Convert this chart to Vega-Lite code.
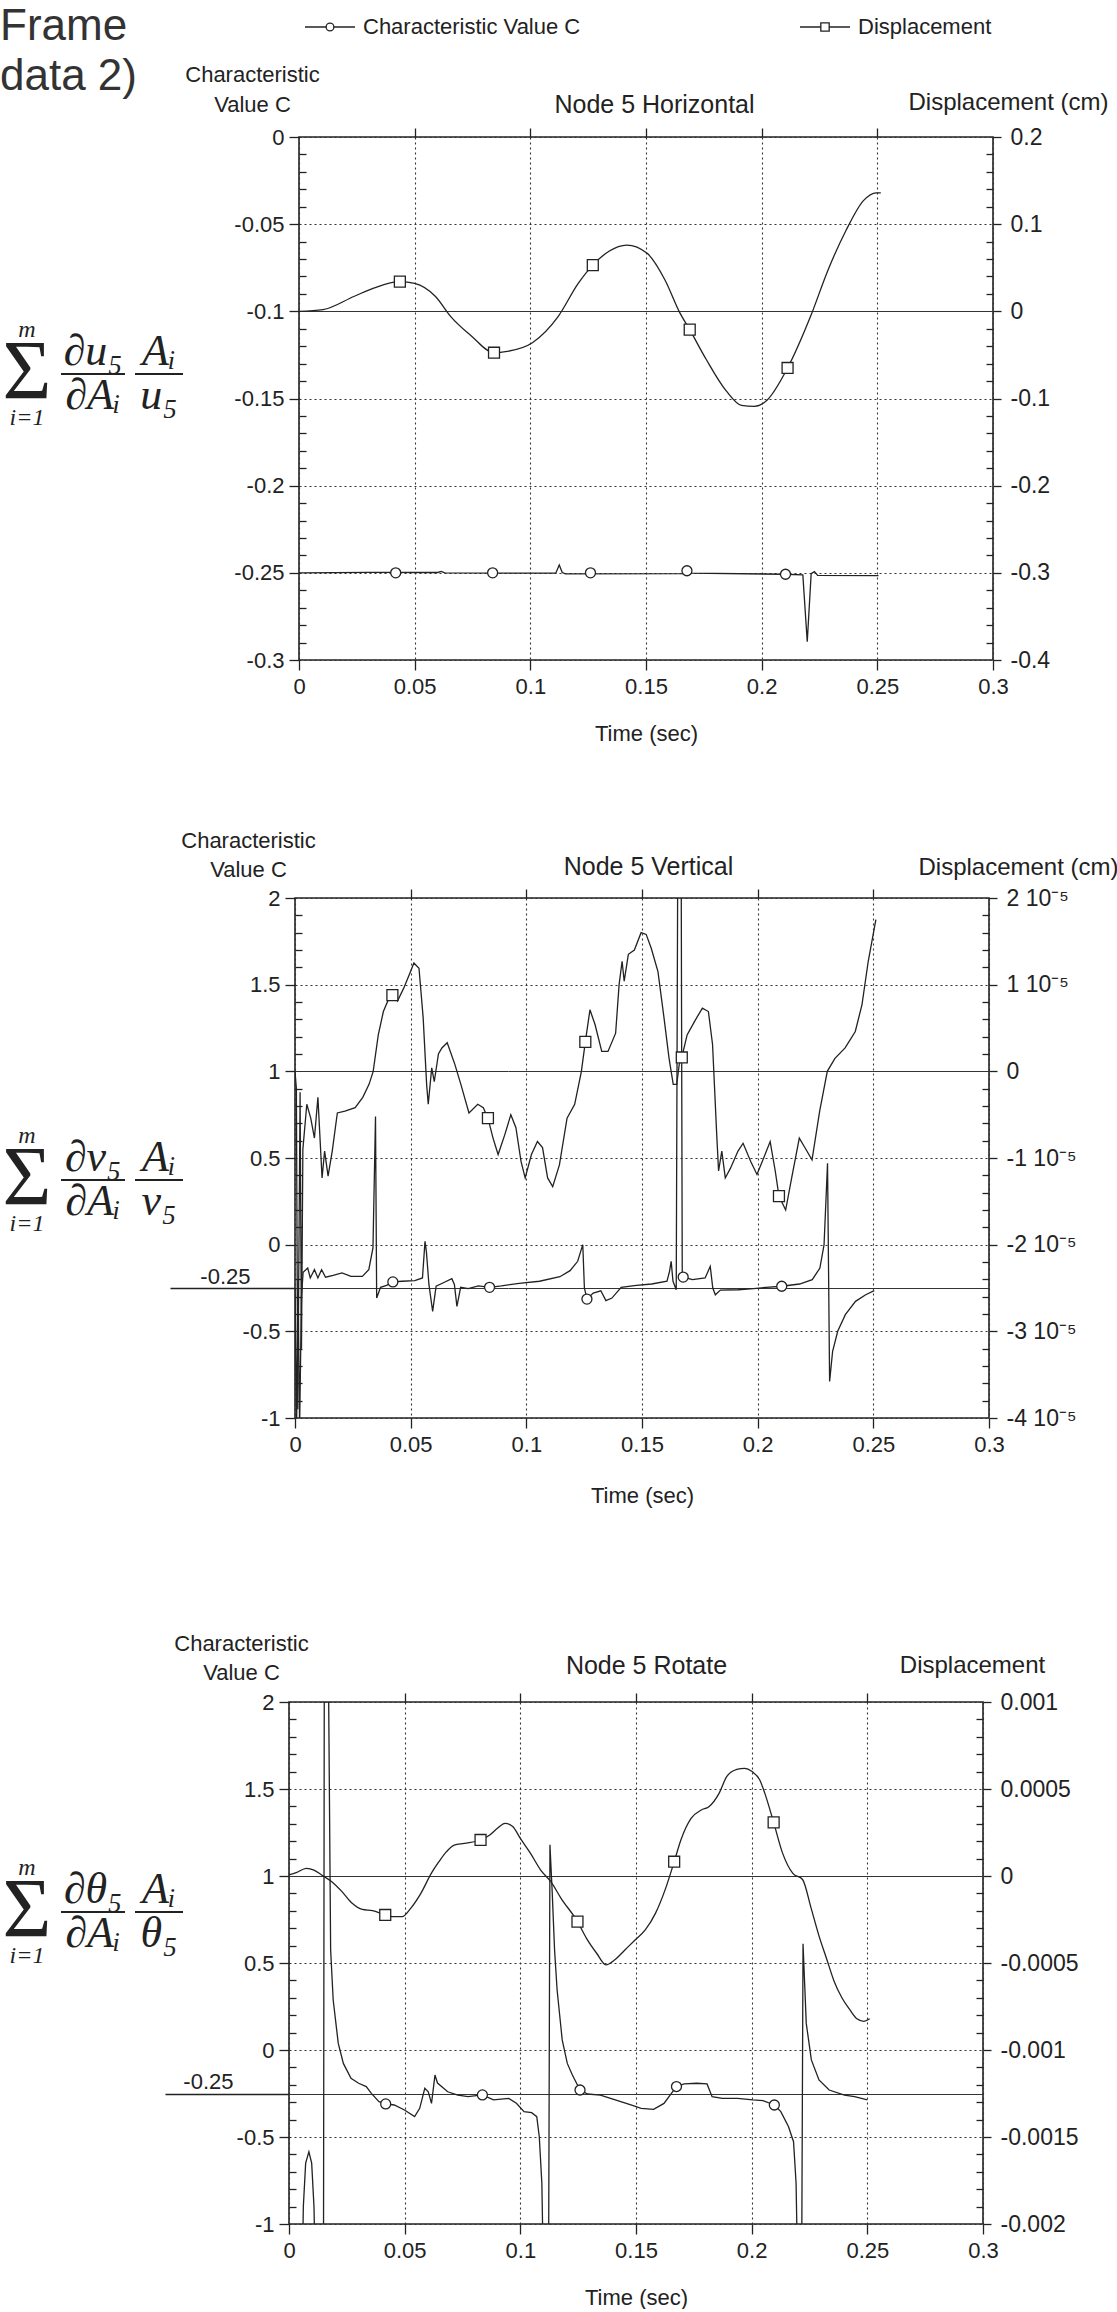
{
  "$schema": "https://vega.github.io/schema/vega-lite/v6.json",
  "padding": {"top": 5, "left": 0, "right": 0, "bottom": 0},
  "background": "white",
  "config": {
    "view": {"stroke": null},
    "font": "Liberation Sans",
    "axis": {"labelFont": "Liberation Sans", "labelFontSize": 22, "labelColor": "#222", "tickColor": "#222", "tickWidth": 1.3, "gridColor": "#333", "gridWidth": 1.1, "domain": false, "titleFont": "Liberation Sans", "titleFontWeight": "normal", "titleColor": "#222", "titleFontSize": 22, "labelOverlap": false, "labelFlush": false},
    "title": {"font": "Liberation Sans", "fontWeight": "normal", "color": "#222"},
    "line": {"color": "#222", "strokeWidth": 1.3},
    "point": {"filled": true, "fill": "white", "stroke": "#222", "strokeWidth": 1.3, "size": 100, "opacity": 1}
  },
  "datasets": {
    "hdr": [
      {"item": "frame", "txt": "Frame"},
      {"item": "Characteristic Value C", "txt": "Characteristic Value C"},
      {"item": "Displacement", "txt": "Displacement"}
    ],
    "f1": [
      {"part": "sigma", "col": "sum", "row": "bar", "txt": "Σ"},
      {"part": "limit", "col": "sum", "row": "sup", "txt": "m"},
      {"part": "limit", "col": "sum", "row": "sub", "txt": "i=1"},
      {"part": "term", "col": "f1", "row": "num", "txt": "∂u₅"},
      {"part": "term", "col": "f1", "row": "den", "txt": "∂Aᵢ"},
      {"part": "term", "col": "f2", "row": "num", "txt": "Aᵢ"},
      {"part": "term", "col": "f2", "row": "den", "txt": "u₅"},
      {"part": "bar1", "col": "f1", "row": "bar", "txt": ""},
      {"part": "bar2", "col": "f2", "row": "bar", "txt": ""}
    ],
    "f2": [
      {"part": "sigma", "col": "sum", "row": "bar", "txt": "Σ"},
      {"part": "limit", "col": "sum", "row": "sup", "txt": "m"},
      {"part": "limit", "col": "sum", "row": "sub", "txt": "i=1"},
      {"part": "term", "col": "f1", "row": "num", "txt": "∂v₅"},
      {"part": "term", "col": "f1", "row": "den", "txt": "∂Aᵢ"},
      {"part": "term", "col": "f2", "row": "num", "txt": "Aᵢ"},
      {"part": "term", "col": "f2", "row": "den", "txt": "v₅"},
      {"part": "bar1", "col": "f1", "row": "bar", "txt": ""},
      {"part": "bar2", "col": "f2", "row": "bar", "txt": ""}
    ],
    "f3": [
      {"part": "sigma", "col": "sum", "row": "bar", "txt": "Σ"},
      {"part": "limit", "col": "sum", "row": "sup", "txt": "m"},
      {"part": "limit", "col": "sum", "row": "sub", "txt": "i=1"},
      {"part": "term", "col": "f1", "row": "num", "txt": "∂θ₅"},
      {"part": "term", "col": "f1", "row": "den", "txt": "∂Aᵢ"},
      {"part": "term", "col": "f2", "row": "num", "txt": "Aᵢ"},
      {"part": "term", "col": "f2", "row": "den", "txt": "θ₅"},
      {"part": "bar1", "col": "f1", "row": "bar", "txt": ""},
      {"part": "bar2", "col": "f2", "row": "bar", "txt": ""}
    ],
    "c1": [{"t":0,"c":-0.25},{"t":0.03,"c":-0.2497},{"t":0.06,"c":-0.2498},{"t":0.0615,"c":-0.2492},{"t":0.063,"c":-0.25},{"t":0.111,"c":-0.2502},{"t":0.1125,"c":-0.2455},{"t":0.1138,"c":-0.2498},{"t":0.1152,"c":-0.2506},{"t":0.166,"c":-0.2505},{"t":0.1672,"c":-0.2485},{"t":0.169,"c":-0.2502},{"t":0.21,"c":-0.2508},{"t":0.2178,"c":-0.2512},{"t":0.2197,"c":-0.2895},{"t":0.2214,"c":-0.2505},{"t":0.2228,"c":-0.2493},{"t":0.2242,"c":-0.2515},{"t":0.2505,"c":-0.2516}],
    "c1m": [{"t":0.0418,"c":-0.25},{"t":0.0837,"c":-0.25},{"t":0.126,"c":-0.25},{"t":0.1677,"c":-0.2488},{"t":0.2103,"c":-0.2508}],
    "d1": [{"t":0,"d":0},{"t":0.0104,"d":0.002},{"t":0.0237,"d":0.017},{"t":0.0326,"d":0.027},{"t":0.0436,"d":0.034},{"t":0.05,"d":0.032},{"t":0.059,"d":0.017},{"t":0.0656,"d":-0.006},{"t":0.0744,"d":-0.028},{"t":0.0843,"d":-0.0475},{"t":0.09,"d":-0.046},{"t":0.1009,"d":-0.036},{"t":0.112,"d":-0.006},{"t":0.1207,"d":0.032},{"t":0.127,"d":0.053},{"t":0.134,"d":0.069},{"t":0.1417,"d":0.076},{"t":0.1505,"d":0.0665},{"t":0.1582,"d":0.036},{"t":0.1647,"d":-0.002},{"t":0.1689,"d":-0.021},{"t":0.176,"d":-0.055},{"t":0.1846,"d":-0.091},{"t":0.1913,"d":-0.108},{"t":0.1968,"d":-0.109},{"t":0.2023,"d":-0.102},{"t":0.2112,"d":-0.065},{"t":0.2211,"d":-0.006},{"t":0.2287,"d":0.0475},{"t":0.2365,"d":0.093},{"t":0.244,"d":0.127},{"t":0.2495,"d":0.136},{"t":0.2515,"d":0.136}],
    "d1m": [{"t":0.0436,"d":0.034},{"t":0.0843,"d":-0.0475},{"t":0.127,"d":0.053},{"t":0.1689,"d":-0.021},{"t":0.2112,"d":-0.065}],
    "c2": [{"t":0,"c":-0.25},{"t":0.0007,"c":-1.05},{"t":0.0013,"c":-0.2},{"t":0.002,"c":-1.05},{"t":0.0028,"c":-0.3},{"t":0.0035,"c":-0.16},{"t":0.0055,"c":-0.135},{"t":0.0066,"c":-0.192},{"t":0.0084,"c":-0.144},{"t":0.0099,"c":-0.192},{"t":0.0115,"c":-0.144},{"t":0.0132,"c":-0.188},{"t":0.0165,"c":-0.177},{"t":0.0203,"c":-0.163},{"t":0.0242,"c":-0.183},{"t":0.0291,"c":-0.183},{"t":0.0319,"c":-0.144},{"t":0.0337,"c":-0.019},{"t":0.0348,"c":0.74},{"t":0.0353,"c":-0.308},{"t":0.037,"c":-0.246},{"t":0.0396,"c":-0.235},{"t":0.0423,"c":-0.215},{"t":0.0463,"c":-0.211},{"t":0.0518,"c":-0.208},{"t":0.0551,"c":-0.192},{"t":0.0562,"c":0.019},{"t":0.0568,"c":-0.04},{"t":0.0579,"c":-0.231},{"t":0.0595,"c":-0.385},{"t":0.061,"c":-0.24},{"t":0.0639,"c":-0.221},{"t":0.0678,"c":-0.196},{"t":0.0689,"c":-0.23},{"t":0.07,"c":-0.356},{"t":0.0716,"c":-0.246},{"t":0.0749,"c":-0.254},{"t":0.0793,"c":-0.238},{"t":0.0841,"c":-0.246},{"t":0.0892,"c":-0.238},{"t":0.0969,"c":-0.223},{"t":0.1057,"c":-0.211},{"t":0.1145,"c":-0.185},{"t":0.1189,"c":-0.15},{"t":0.1222,"c":-0.096},{"t":0.1244,"c":0.0},{"t":0.1251,"c":-0.25},{"t":0.1262,"c":-0.314},{"t":0.1289,"c":-0.279},{"t":0.1322,"c":-0.266},{"t":0.1344,"c":-0.323},{"t":0.137,"c":-0.308},{"t":0.141,"c":-0.246},{"t":0.1476,"c":-0.235},{"t":0.1542,"c":-0.227},{"t":0.1608,"c":-0.211},{"t":0.1619,"c":-0.154},{"t":0.1626,"c":-0.096},{"t":0.1634,"c":-0.211},{"t":0.1648,"c":-0.26},{"t":0.1655,"c":2.4},{"t":0.1669,"c":2.4},{"t":0.1674,"c":-0.192},{"t":0.1678,"c":-0.187},{"t":0.1718,"c":-0.202},{"t":0.1773,"c":-0.192},{"t":0.1795,"c":-0.125},{"t":0.1806,"c":-0.25},{"t":0.1817,"c":-0.289},{"t":0.1839,"c":-0.262},{"t":0.1916,"c":-0.26},{"t":0.1982,"c":-0.254},{"t":0.2037,"c":-0.246},{"t":0.2104,"c":-0.24},{"t":0.2181,"c":-0.227},{"t":0.2236,"c":-0.202},{"t":0.2269,"c":-0.135},{"t":0.2287,"c":0.0},{"t":0.2302,"c":0.47},{"t":0.2311,"c":-0.789},{"t":0.2324,"c":-0.615},{"t":0.2346,"c":-0.5},{"t":0.2379,"c":-0.404},{"t":0.2423,"c":-0.327},{"t":0.2467,"c":-0.289},{"t":0.2504,"c":-0.265}],
    "c2m": [{"t":0.0423,"c":-0.215},{"t":0.0841,"c":-0.246},{"t":0.1262,"c":-0.314},{"t":0.1678,"c":-0.187},{"t":0.2104,"c":-0.24}],
    "d2": [{"t":0,"d":0},{"t":0.0006,"d":-0.2e-5},{"t":0.0012,"d":-3.9e-5},{"t":0.0022,"d":-0.24e-5},{"t":0.0028,"d":-3.2e-5},{"t":0.0034,"d":-0.9e-5},{"t":0.0051,"d":-0.38e-5},{"t":0.0068,"d":-0.54e-5},{"t":0.0084,"d":-0.77e-5},{"t":0.0099,"d":-0.3e-5},{"t":0.0117,"d":-1.23e-5},{"t":0.0128,"d":-0.92e-5},{"t":0.0143,"d":-1.21e-5},{"t":0.0161,"d":-0.92e-5},{"t":0.0183,"d":-0.48e-5},{"t":0.0216,"d":-0.46e-5},{"t":0.026,"d":-0.42e-5},{"t":0.0293,"d":-0.3e-5},{"t":0.032,"d":-0.15e-5},{"t":0.0338,"d":0},{"t":0.036,"d":0.42e-5},{"t":0.0382,"d":0.69e-5},{"t":0.0404,"d":0.83e-5},{"t":0.0421,"d":0.88e-5},{"t":0.0443,"d":0.81e-5},{"t":0.047,"d":0.96e-5},{"t":0.0496,"d":1.13e-5},{"t":0.0514,"d":1.25e-5},{"t":0.0536,"d":1.19e-5},{"t":0.0554,"d":0.62e-5},{"t":0.0569,"d":-0.15e-5},{"t":0.0576,"d":-0.38e-5},{"t":0.0591,"d":0.04e-5},{"t":0.0602,"d":-0.12e-5},{"t":0.062,"d":0.2e-5},{"t":0.0635,"d":0.27e-5},{"t":0.0658,"d":0.33e-5},{"t":0.0691,"d":0.08e-5},{"t":0.0717,"d":-0.15e-5},{"t":0.0752,"d":-0.48e-5},{"t":0.079,"d":-0.38e-5},{"t":0.0814,"d":-0.42e-5},{"t":0.0834,"d":-0.54e-5},{"t":0.0856,"d":-0.77e-5},{"t":0.0878,"d":-0.96e-5},{"t":0.0907,"d":-0.73e-5},{"t":0.0933,"d":-0.5e-5},{"t":0.0955,"d":-0.65e-5},{"t":0.0977,"d":-1.04e-5},{"t":0.0995,"d":-1.23e-5},{"t":0.1022,"d":-0.96e-5},{"t":0.1048,"d":-0.81e-5},{"t":0.107,"d":-0.88e-5},{"t":0.1092,"d":-1.23e-5},{"t":0.1114,"d":-1.33e-5},{"t":0.1143,"d":-1.08e-5},{"t":0.1176,"d":-0.54e-5},{"t":0.1209,"d":-0.38e-5},{"t":0.1238,"d":0},{"t":0.1255,"d":0.34e-5},{"t":0.1275,"d":0.71e-5},{"t":0.1297,"d":0.54e-5},{"t":0.1326,"d":0.23e-5},{"t":0.1353,"d":0.23e-5},{"t":0.1386,"d":0.44e-5},{"t":0.1401,"d":1.0e-5},{"t":0.1414,"d":1.27e-5},{"t":0.1423,"d":1.04e-5},{"t":0.1441,"d":1.35e-5},{"t":0.1467,"d":1.4e-5},{"t":0.1496,"d":1.6e-5},{"t":0.1518,"d":1.58e-5},{"t":0.154,"d":1.42e-5},{"t":0.1569,"d":1.15e-5},{"t":0.1595,"d":0.62e-5},{"t":0.1617,"d":0.15e-5},{"t":0.1635,"d":-0.15e-5},{"t":0.165,"d":-0.15e-5},{"t":0.1661,"d":0.08e-5},{"t":0.1672,"d":0.16e-5},{"t":0.1695,"d":0.42e-5},{"t":0.1728,"d":0.58e-5},{"t":0.1761,"d":0.73e-5},{"t":0.1787,"d":0.69e-5},{"t":0.1805,"d":0.31e-5},{"t":0.1823,"d":-0.73e-5},{"t":0.1831,"d":-1.15e-5},{"t":0.1845,"d":-0.92e-5},{"t":0.186,"d":-1.23e-5},{"t":0.1882,"d":-1.12e-5},{"t":0.1915,"d":-0.92e-5},{"t":0.1937,"d":-0.83e-5},{"t":0.197,"d":-1.04e-5},{"t":0.1997,"d":-1.19e-5},{"t":0.2026,"d":-1.0e-5},{"t":0.2054,"d":-0.81e-5},{"t":0.2076,"d":-1.15e-5},{"t":0.2092,"d":-1.44e-5},{"t":0.2121,"d":-1.6e-5},{"t":0.2147,"d":-1.23e-5},{"t":0.218,"d":-0.77e-5},{"t":0.2202,"d":-0.87e-5},{"t":0.2235,"d":-1.02e-5},{"t":0.2268,"d":-0.46e-5},{"t":0.2301,"d":0},{"t":0.2334,"d":0.15e-5},{"t":0.2378,"d":0.27e-5},{"t":0.2422,"d":0.46e-5},{"t":0.2451,"d":0.77e-5},{"t":0.2478,"d":1.27e-5},{"t":0.2511,"d":1.75e-5}],
    "d2m": [{"t":0.0421,"d":0.88e-5},{"t":0.0834,"d":-0.54e-5},{"t":0.1255,"d":0.34e-5},{"t":0.1672,"d":0.16e-5},{"t":0.2092,"d":-1.44e-5}],
    "c3": [{"t":0,"c":-1.3},{"t":0.0057,"c":-1.3},{"t":0.0062,"c":-0.9},{"t":0.0072,"c":-0.65},{"t":0.0086,"c":-0.585},{"t":0.0098,"c":-0.65},{"t":0.0108,"c":-0.9},{"t":0.0114,"c":-1.3},{"t":0.0149,"c":-1.3},{"t":0.0153,"c":2.6},{"t":0.0168,"c":2.6},{"t":0.018,"c":0.575},{"t":0.0191,"c":0.287},{"t":0.0213,"c":0.038},{"t":0.0235,"c":-0.077},{"t":0.0268,"c":-0.163},{"t":0.0301,"c":-0.191},{"t":0.0334,"c":-0.21},{"t":0.0356,"c":-0.249},{"t":0.0389,"c":-0.297},{"t":0.0418,"c":-0.31},{"t":0.0455,"c":-0.316},{"t":0.0499,"c":-0.345},{"t":0.0543,"c":-0.383},{"t":0.0565,"c":-0.335},{"t":0.0587,"c":-0.22},{"t":0.0602,"c":-0.24},{"t":0.0616,"c":-0.307},{"t":0.0631,"c":-0.144},{"t":0.0642,"c":-0.19},{"t":0.0686,"c":-0.24},{"t":0.073,"c":-0.259},{"t":0.0774,"c":-0.268},{"t":0.0836,"c":-0.258},{"t":0.0884,"c":-0.287},{"t":0.095,"c":-0.278},{"t":0.0983,"c":-0.306},{"t":0.1016,"c":-0.354},{"t":0.1049,"c":-0.36},{"t":0.1071,"c":-0.383},{"t":0.1082,"c":-0.5},{"t":0.1093,"c":-0.766},{"t":0.11,"c":-1.3},{"t":0.1122,"c":-1.3},{"t":0.1128,"c":1.18},{"t":0.1138,"c":0.9},{"t":0.1148,"c":0.575},{"t":0.1159,"c":0.345},{"t":0.1181,"c":0.058},{"t":0.1203,"c":-0.077},{"t":0.1225,"c":-0.144},{"t":0.1258,"c":-0.23},{"t":0.1291,"c":-0.253},{"t":0.1346,"c":-0.259},{"t":0.139,"c":-0.278},{"t":0.1434,"c":-0.297},{"t":0.1478,"c":-0.316},{"t":0.1522,"c":-0.335},{"t":0.1576,"c":-0.341},{"t":0.1621,"c":-0.307},{"t":0.1653,"c":-0.249},{"t":0.1675,"c":-0.21},{"t":0.1708,"c":-0.195},{"t":0.1763,"c":-0.191},{"t":0.1807,"c":-0.195},{"t":0.1829,"c":-0.268},{"t":0.1873,"c":-0.278},{"t":0.1939,"c":-0.278},{"t":0.2005,"c":-0.287},{"t":0.2049,"c":-0.291},{"t":0.2098,"c":-0.316},{"t":0.2126,"c":-0.354},{"t":0.2159,"c":-0.44},{"t":0.2181,"c":-0.527},{"t":0.2192,"c":-0.766},{"t":0.2199,"c":-1.3},{"t":0.2216,"c":-1.3},{"t":0.2222,"c":0.61},{"t":0.223,"c":0.35},{"t":0.2236,"c":0.153},{"t":0.2258,"c":-0.057},{"t":0.2291,"c":-0.172},{"t":0.2335,"c":-0.23},{"t":0.2401,"c":-0.259},{"t":0.2445,"c":-0.268},{"t":0.25,"c":-0.287}],
    "c3m": [{"t":0.0418,"c":-0.31},{"t":0.0836,"c":-0.258},{"t":0.1258,"c":-0.23},{"t":0.1675,"c":-0.21},{"t":0.2098,"c":-0.316}],
    "d3": [{"t":0,"d":0.000006},{"t":0.0031,"d":0.000019},{"t":0.0075,"d":0.000044},{"t":0.0108,"d":0.000034},{"t":0.0141,"d":0.000006},{"t":0.0185,"d":-0.000033},{"t":0.0229,"d":-0.00009},{"t":0.0273,"d":-0.000157},{"t":0.0317,"d":-0.000192},{"t":0.0361,"d":-0.000199},{"t":0.0416,"d":-0.000224},{"t":0.0449,"d":-0.000234},{"t":0.0489,"d":-0.000234},{"t":0.0526,"d":-0.000186},{"t":0.057,"d":-0.0001},{"t":0.0615,"d":0.000015},{"t":0.0648,"d":0.000082},{"t":0.0681,"d":0.00014},{"t":0.0714,"d":0.000178},{"t":0.0758,"d":0.000188},{"t":0.0828,"d":0.000207},{"t":0.0868,"d":0.000236},{"t":0.0901,"d":0.000274},{"t":0.0934,"d":0.000303},{"t":0.0967,"d":0.000284},{"t":0.1,"d":0.000216},{"t":0.1044,"d":0.00013},{"t":0.1088,"d":0.000034},{"t":0.1132,"d":-0.000033},{"t":0.1176,"d":-0.000128},{"t":0.1247,"d":-0.000262},{"t":0.1286,"d":-0.000358},{"t":0.133,"d":-0.000444},{"t":0.137,"d":-0.000511},{"t":0.1407,"d":-0.000483},{"t":0.1452,"d":-0.000425},{"t":0.1496,"d":-0.000368},{"t":0.154,"d":-0.00031},{"t":0.1584,"d":-0.000215},{"t":0.1628,"d":-0.000071},{"t":0.1665,"d":0.000082},{"t":0.1694,"d":0.000207},{"t":0.1738,"d":0.000331},{"t":0.1782,"d":0.000379},{"t":0.1815,"d":0.000398},{"t":0.1859,"d":0.000475},{"t":0.1892,"d":0.000571},{"t":0.1936,"d":0.000613},{"t":0.1969,"d":0.000619},{"t":0.2002,"d":0.0006},{"t":0.2035,"d":0.000552},{"t":0.2057,"d":0.000475},{"t":0.2095,"d":0.000308},{"t":0.2134,"d":0.00013},{"t":0.2178,"d":0.000015},{"t":0.222,"d":-0.00002},{"t":0.2256,"d":-0.00018},{"t":0.229,"d":-0.00034},{"t":0.2325,"d":-0.00048},{"t":0.2355,"d":-0.0006},{"t":0.239,"d":-0.0007},{"t":0.2425,"d":-0.00077},{"t":0.2455,"d":-0.00082},{"t":0.2485,"d":-0.000835},{"t":0.251,"d":-0.00082}],
    "d3m": [{"t":0.0416,"d":-0.000224},{"t":0.0828,"d":0.000207},{"t":0.1247,"d":-0.000262},{"t":0.1665,"d":0.000082},{"t":0.2095,"d":0.000308}]
  },
  "spacing": 6,
  "vconcat": [
    {
      "width": 825, "height": 44,
      "view": {"stroke": null},
      "data": {"name": "hdr"},
      "encoding": {"x": {"field": "item", "type": "nominal", "scale": {"type": "point", "domain": ["frame", "g1", "g2", "g3", "Characteristic Value C", "g5", "g6", "g7", "g8", "g9", "Displacement"], "padding": 0}, "axis": null}},
      "layer": [
        {"transform": [{"filter": "datum.item === 'frame'"}], "mark": {"type": "text", "align": "left", "baseline": "middle", "fontSize": 44, "font": "Liberation Sans", "color": "#333"}, "encoding": {"text": {"field": "txt", "type": "nominal"}}},
        {"transform": [{"filter": "datum.item !== 'frame'"}], "mark": {"type": "tick", "orient": "horizontal", "size": 50, "thickness": 1.3, "color": "#222", "opacity": 1}},
        {"transform": [{"filter": "datum.item === 'Characteristic Value C'"}], "mark": {"type": "point", "shape": "circle", "size": 60}},
        {"transform": [{"filter": "datum.item === 'Displacement'"}], "mark": {"type": "point", "shape": "square", "size": 70}},
        {"transform": [{"filter": "datum.item !== 'frame'"}], "mark": {"type": "text", "align": "left", "baseline": "middle", "dx": 33, "fontSize": 22, "font": "Liberation Sans", "color": "#222"}, "encoding": {"text": {"field": "txt", "type": "nominal"}}}
      ]
    },
    {
      "spacing": 83,
      "vconcat": [
        {
          "spacing": 113,
          "bounds": "flush",
          "hconcat": [
            {
              "width": 186, "height": 523,
              "view": {"stroke": null},
              "title": {"text": "data 2)", "anchor": "start", "frame": "group", "fontSize": 44, "font": "Liberation Sans", "fontWeight": "normal", "color": "#333", "offset": 38},
              "data": {"name": "f1"},
              "encoding": {
                "x": {"field": "col", "type": "nominal", "scale": {"type": "point", "domain": ["sum", "f1", "f2"], "padding": 0.409, "align": 0.5}, "axis": null},
                "y": {"field": "row", "type": "nominal", "scale": {"type": "point", "domain": ["a1","a2","a3","a4","a5","a6","a7","a8","sup","num","bar","den","sub","b1","b2","b3","b4","b5","b6","b7","b8","b9","b10","b11"], "padding": 0.3864, "align": 1}, "axis": null}
              },
              "layer": [
                {"transform": [{"filter": "datum.part === 'sigma'"}], "mark": {"type": "text", "font": "Liberation Serif", "fontSize": 84, "baseline": "middle", "align": "center", "color": "#222"}, "encoding": {"text": {"field": "txt", "type": "nominal"}}},
                {"transform": [{"filter": "datum.part === 'limit'"}], "mark": {"type": "text", "font": "Liberation Serif", "fontStyle": "italic", "fontSize": 24, "baseline": "middle", "align": "center", "color": "#222"}, "encoding": {"text": {"field": "txt", "type": "nominal"}}},
                {"transform": [{"filter": "datum.part === 'term'"}], "mark": {"type": "text", "font": "Liberation Serif", "fontStyle": "italic", "fontSize": 44, "baseline": "middle", "align": "center", "color": "#222"}, "encoding": {"text": {"field": "txt", "type": "nominal"}}},
                {"transform": [{"filter": "datum.part === 'bar1'"}], "mark": {"type": "tick", "orient": "horizontal", "size": 64, "thickness": 2, "color": "#222", "opacity": 1}},
                {"transform": [{"filter": "datum.part === 'bar2'"}], "mark": {"type": "tick", "orient": "horizontal", "size": 48, "thickness": 2, "color": "#222", "opacity": 1}}
              ]
            },
            {
              "width": 694, "height": 523,
              "view": {"stroke": "#222", "strokeWidth": 1.6},
              "layer": [
                {
                  "encoding": {
                    "x": {"field": "t", "type": "quantitative", "scale": {"domain": [0, 0.3], "nice": false, "zero": false},
                      "axis": {"orient": "bottom", "values": [0, 0.05, 0.1, 0.15, 0.2, 0.25, 0.3], "format": "~g", "tickSize": 10, "labelPadding": 6, "grid": true, "gridDash": [2, 3], "title": "Time (sec)", "titleX": 347, "titleY": 73, "titleBaseline": "middle", "titleAlign": "center"}},
                    "y": {"field": "c", "type": "quantitative", "scale": {"domain": [-0.3, 0], "nice": false, "zero": false},
                      "axis": {"orient": "left", "values": [0,-0.01,-0.02,-0.03,-0.04,-0.05,-0.06,-0.07,-0.08,-0.09,-0.1,-0.11,-0.12,-0.13,-0.14,-0.15,-0.16,-0.17,-0.18,-0.19,-0.2,-0.21,-0.22,-0.23,-0.24,-0.25,-0.26,-0.27,-0.28,-0.29,-0.3],
                        "format": "~g",
                        "labelExpr": "abs(datum.value*20-round(datum.value*20))<1e-6 ? replace(datum.label,'−','-') : ''",
                        "tickSize": {"condition": {"test": "abs(datum.value*20-round(datum.value*20))<1e-6", "value": 10}, "value": -7},
                        "labelPadding": 5,
                        "grid": true,
                        "gridOpacity": {"condition": {"test": "abs(datum.value*20-round(datum.value*20))<1e-6", "value": 1}, "value": 0},
                        "gridDash": {"condition": {"test": "abs(datum.value+0.1)<1e-6", "value": [1, 0]}, "value": [2, 3]},
                        "title": ["Characteristic", "Value C"], "titleAngle": 0, "titleAlign": "center", "titleBaseline": "middle", "titleX": -47, "titleY": -63, "titleLineHeight": 30}}
                  },
                  "layer": [
                    {"data": {"name": "c1"}, "mark": {"type": "line", "clip": true}},
                    {"data": {"name": "c1m"}, "mark": {"type": "point", "shape": "circle"}}
                  ]
                },
                {
                  "encoding": {
                    "x": {"field": "t", "type": "quantitative", "scale": {"domain": [0, 0.3], "nice": false, "zero": false},
                      "axis": {"orient": "top", "values": [0.05, 0.1, 0.15, 0.2, 0.25], "labels": false, "tickSize": 9, "grid": false, "title": "Node 5 Horizontal", "titleFontSize": 25, "titleX": 355, "titleY": -33, "titleBaseline": "middle", "titleAlign": "center"}},
                    "y": {"field": "d", "type": "quantitative", "scale": {"domain": [-0.4, 0.2], "nice": false, "zero": false},
                      "axis": {"orient": "right", "values": [0.2,0.18,0.16,0.14,0.12,0.1,0.08,0.06,0.04,0.02,0,-0.02,-0.04,-0.06,-0.08,-0.1,-0.12,-0.14,-0.16,-0.18,-0.2,-0.22,-0.24,-0.26,-0.28,-0.3,-0.32,-0.34,-0.36,-0.38,-0.4],
                        "format": "~g",
                        "labelExpr": "abs(datum.value*10-round(datum.value*10))<1e-6 ? replace(datum.label,'−','-') : ''",
                        "tickSize": {"condition": {"test": "abs(datum.value*10-round(datum.value*10))<1e-6", "value": 8}, "value": -7},
                        "labelPadding": 9, "labelFontSize": 23, "grid": false,
                        "title": "Displacement (cm)", "titleFontSize": 24, "titleAngle": 0, "titleAlign": "center", "titleBaseline": "middle", "titleX": 15, "titleY": -35}}
                  },
                  "layer": [
                    {"data": {"name": "d1"}, "mark": {"type": "line", "interpolate": "monotone", "clip": true}},
                    {"data": {"name": "d1m"}, "mark": {"type": "point", "shape": "square", "size": 120}}
                  ]
                }
              ],
              "resolve": {"scale": {"y": "independent"}}
            }
          ]
        },
        {
          "spacing": 124,
          "vconcat": [
            {
              "spacing": 109,
              "bounds": "flush",
              "hconcat": [
                {
                  "width": 186, "height": 520,
                  "view": {"stroke": null},
                  "data": {"name": "f2"},
                  "encoding": {
                    "x": {"field": "col", "type": "nominal", "scale": {"type": "point", "domain": ["sum", "f1", "f2"], "padding": 0.409, "align": 0.5}, "axis": null},
                    "y": {"field": "row", "type": "nominal", "scale": {"type": "point", "domain": ["a1","a2","a3","a4","a5","a6","a7","a8","a9","a10","sup","num","bar","den","sub","b1","b2","b3","b4","b5","b6","b7","b8"], "padding": 0.818, "align": 0.5}, "axis": null}
                  },
                  "layer": [
                    {"transform": [{"filter": "datum.part === 'sigma'"}], "mark": {"type": "text", "font": "Liberation Serif", "fontSize": 84, "baseline": "middle", "align": "center", "color": "#222"}, "encoding": {"text": {"field": "txt", "type": "nominal"}}},
                    {"transform": [{"filter": "datum.part === 'limit'"}], "mark": {"type": "text", "font": "Liberation Serif", "fontStyle": "italic", "fontSize": 24, "baseline": "middle", "align": "center", "color": "#222"}, "encoding": {"text": {"field": "txt", "type": "nominal"}}},
                    {"transform": [{"filter": "datum.part === 'term'"}], "mark": {"type": "text", "font": "Liberation Serif", "fontStyle": "italic", "fontSize": 44, "baseline": "middle", "align": "center", "color": "#222"}, "encoding": {"text": {"field": "txt", "type": "nominal"}}},
                    {"transform": [{"filter": "datum.part === 'bar1'"}], "mark": {"type": "tick", "orient": "horizontal", "size": 64, "thickness": 2, "color": "#222", "opacity": 1}},
                    {"transform": [{"filter": "datum.part === 'bar2'"}], "mark": {"type": "tick", "orient": "horizontal", "size": 48, "thickness": 2, "color": "#222", "opacity": 1}}
                  ]
                },
                {
                  "width": 694, "height": 520,
                  "view": {"stroke": "#222", "strokeWidth": 1.6},
                  "layer": [
                    {
                      "encoding": {
                        "x": {"field": "t", "type": "quantitative", "scale": {"domain": [0, 0.3], "nice": false, "zero": false},
                          "axis": {"orient": "bottom", "values": [0, 0.05, 0.1, 0.15, 0.2, 0.25, 0.3], "format": "~g", "tickSize": 10, "labelPadding": 6, "grid": true, "gridDash": [2, 3], "title": "Time (sec)", "titleX": 347, "titleY": 77, "titleBaseline": "middle", "titleAlign": "center"}},
                        "y": {"field": "c", "type": "quantitative", "scale": {"domain": [-1, 2], "nice": false, "zero": false},
                          "axis": {"orient": "left", "values": [2,1.9,1.8,1.7,1.6,1.5,1.4,1.3,1.2,1.1,1,0.9,0.8,0.7,0.6,0.5,0.4,0.3,0.2,0.1,0,-0.1,-0.2,-0.25,-0.3,-0.4,-0.5,-0.6,-0.7,-0.8,-0.9,-1],
                            "format": "~g",
                            "labelExpr": "(abs(datum.value*2-round(datum.value*2))<1e-6 || abs(datum.value+0.25)<1e-6) ? replace(datum.label,'−','-') : ''",
                            "tickSize": {"condition": [{"test": "abs(datum.value+0.25)<1e-6", "value": 125}, {"test": "abs(datum.value*2-round(datum.value*2))<1e-6", "value": 10}], "value": -7},
                            "labelPadding": {"condition": {"test": "abs(datum.value+0.25)<1e-6", "value": -80}, "value": 5},
                            "labelOffset": {"condition": {"test": "abs(datum.value+0.25)<1e-6", "value": -12}, "value": 0},
                            "grid": true,
                            "gridOpacity": {"condition": {"test": "abs(datum.value*2-round(datum.value*2))<1e-6 || abs(datum.value+0.25)<1e-6", "value": 1}, "value": 0},
                            "gridDash": {"condition": {"test": "abs(datum.value-1)<1e-6 || abs(datum.value+0.25)<1e-6", "value": [1, 0]}, "value": [2, 3]},
                            "title": ["Characteristic", "Value C"], "titleAngle": 0, "titleAlign": "center", "titleBaseline": "middle", "titleX": -47, "titleY": -58, "titleLineHeight": 29}}
                      },
                      "layer": [
                        {"data": {"name": "c2"}, "mark": {"type": "line", "clip": true}},
                        {"data": {"name": "c2m"}, "mark": {"type": "point", "shape": "circle"}}
                      ]
                    },
                    {
                      "encoding": {
                        "x": {"field": "t", "type": "quantitative", "scale": {"domain": [0, 0.3], "nice": false, "zero": false},
                          "axis": {"orient": "top", "values": [0.05, 0.1, 0.15, 0.2, 0.25], "labels": false, "tickSize": 9, "grid": false, "title": "Node 5 Vertical", "titleFontSize": 25, "titleX": 353, "titleY": -32, "titleBaseline": "middle", "titleAlign": "center"}},
                        "y": {"field": "d", "type": "quantitative", "scale": {"domain": [-4e-5, 2e-5], "nice": false, "zero": false},
                          "axis": {"orient": "right", "values": [2e-5,1.8e-5,1.6e-5,1.4e-5,1.2e-5,1e-5,8e-6,6e-6,4e-6,2e-6,0,-2e-6,-4e-6,-6e-6,-8e-6,-1e-5,-1.2e-5,-1.4e-5,-1.6e-5,-1.8e-5,-2e-5,-2.2e-5,-2.4e-5,-2.6e-5,-2.8e-5,-3e-5,-3.2e-5,-3.4e-5,-3.6e-5,-3.8e-5,-4e-5],
                            "labelExpr": "abs(datum.value*1e5-round(datum.value*1e5))<1e-6 ? (round(datum.value*1e5)==0 ? '0' : (round(datum.value*1e5)<0 ? round(datum.value*1e5)+'  10⁻⁵' : round(datum.value*1e5)+' 10⁻⁵')) : ''",
                            "tickSize": {"condition": {"test": "abs(datum.value*1e5-round(datum.value*1e5))<1e-6", "value": 8}, "value": -7},
                            "labelPadding": 9, "labelFontSize": 23, "grid": false,
                            "title": "Displacement (cm)", "titleFontSize": 24, "titleAngle": 0, "titleAlign": "center", "titleBaseline": "middle", "titleX": 29, "titleY": -31}}
                      },
                      "layer": [
                        {"data": {"name": "d2"}, "mark": {"type": "line", "clip": true}},
                        {"data": {"name": "d2m"}, "mark": {"type": "point", "shape": "square", "size": 120}}
                      ]
                    }
                  ],
                  "resolve": {"scale": {"y": "independent"}}
                }
              ]
            },
            {
              "spacing": 103,
              "bounds": "flush",
              "hconcat": [
                {
                  "width": 186, "height": 522,
                  "view": {"stroke": null},
                  "data": {"name": "f3"},
                  "encoding": {
                    "x": {"field": "col", "type": "nominal", "scale": {"type": "point", "domain": ["sum", "f1", "f2"], "padding": 0.409, "align": 0.5}, "axis": null},
                    "y": {"field": "row", "type": "nominal", "scale": {"type": "point", "domain": ["a1","a2","a3","a4","a5","a6","a7","sup","num","bar","den","sub","b1","b2","b3","b4","b5","b6","b7","b8","b9","b10","b11"], "padding": 0.8636, "align": 0.316}, "axis": null}
                  },
                  "layer": [
                    {"transform": [{"filter": "datum.part === 'sigma'"}], "mark": {"type": "text", "font": "Liberation Serif", "fontSize": 84, "baseline": "middle", "align": "center", "color": "#222"}, "encoding": {"text": {"field": "txt", "type": "nominal"}}},
                    {"transform": [{"filter": "datum.part === 'limit'"}], "mark": {"type": "text", "font": "Liberation Serif", "fontStyle": "italic", "fontSize": 24, "baseline": "middle", "align": "center", "color": "#222"}, "encoding": {"text": {"field": "txt", "type": "nominal"}}},
                    {"transform": [{"filter": "datum.part === 'term'"}], "mark": {"type": "text", "font": "Liberation Serif", "fontStyle": "italic", "fontSize": 44, "baseline": "middle", "align": "center", "color": "#222"}, "encoding": {"text": {"field": "txt", "type": "nominal"}}},
                    {"transform": [{"filter": "datum.part === 'bar1'"}], "mark": {"type": "tick", "orient": "horizontal", "size": 64, "thickness": 2, "color": "#222", "opacity": 1}},
                    {"transform": [{"filter": "datum.part === 'bar2'"}], "mark": {"type": "tick", "orient": "horizontal", "size": 48, "thickness": 2, "color": "#222", "opacity": 1}}
                  ]
                },
                {
                  "width": 694, "height": 522,
                  "view": {"stroke": "#222", "strokeWidth": 1.6},
                  "layer": [
                    {
                      "encoding": {
                        "x": {"field": "t", "type": "quantitative", "scale": {"domain": [0, 0.3], "nice": false, "zero": false},
                          "axis": {"orient": "bottom", "values": [0, 0.05, 0.1, 0.15, 0.2, 0.25, 0.3], "format": "~g", "tickSize": 10, "labelPadding": 6, "grid": true, "gridDash": [2, 3], "title": "Time (sec)", "titleX": 347, "titleY": 73, "titleBaseline": "middle", "titleAlign": "center"}},
                        "y": {"field": "c", "type": "quantitative", "scale": {"domain": [-1, 2], "nice": false, "zero": false},
                          "axis": {"orient": "left", "values": [2,1.9,1.8,1.7,1.6,1.5,1.4,1.3,1.2,1.1,1,0.9,0.8,0.7,0.6,0.5,0.4,0.3,0.2,0.1,0,-0.1,-0.2,-0.25,-0.3,-0.4,-0.5,-0.6,-0.7,-0.8,-0.9,-1],
                            "format": "~g",
                            "labelExpr": "(abs(datum.value*2-round(datum.value*2))<1e-6 || abs(datum.value+0.25)<1e-6) ? replace(datum.label,'−','-') : ''",
                            "tickSize": {"condition": [{"test": "abs(datum.value+0.25)<1e-6", "value": 124}, {"test": "abs(datum.value*2-round(datum.value*2))<1e-6", "value": 10}], "value": -7},
                            "labelPadding": {"condition": {"test": "abs(datum.value+0.25)<1e-6", "value": -68}, "value": 5},
                            "labelOffset": {"condition": {"test": "abs(datum.value+0.25)<1e-6", "value": -12}, "value": 0},
                            "grid": true,
                            "gridOpacity": {"condition": {"test": "abs(datum.value*2-round(datum.value*2))<1e-6 || abs(datum.value+0.25)<1e-6", "value": 1}, "value": 0},
                            "gridDash": {"condition": {"test": "abs(datum.value-1)<1e-6 || abs(datum.value+0.25)<1e-6", "value": [1, 0]}, "value": [2, 3]},
                            "title": ["Characteristic", "Value C"], "titleAngle": 0, "titleAlign": "center", "titleBaseline": "middle", "titleX": -48, "titleY": -59, "titleLineHeight": 29}}
                      },
                      "layer": [
                        {"data": {"name": "c3"}, "mark": {"type": "line", "clip": true}},
                        {"data": {"name": "c3m"}, "mark": {"type": "point", "shape": "circle"}}
                      ]
                    },
                    {
                      "encoding": {
                        "x": {"field": "t", "type": "quantitative", "scale": {"domain": [0, 0.3], "nice": false, "zero": false},
                          "axis": {"orient": "top", "values": [0.05, 0.1, 0.15, 0.2, 0.25], "labels": false, "tickSize": 9, "grid": false, "title": "Node 5 Rotate", "titleFontSize": 25, "titleX": 357, "titleY": -37, "titleBaseline": "middle", "titleAlign": "center"}},
                        "y": {"field": "d", "type": "quantitative", "scale": {"domain": [-0.002, 0.001], "nice": false, "zero": false},
                          "axis": {"orient": "right", "values": [0.001,0.0009,0.0008,0.0007,0.0006,0.0005,0.0004,0.0003,0.0002,0.0001,0,-0.0001,-0.0002,-0.0003,-0.0004,-0.0005,-0.0006,-0.0007,-0.0008,-0.0009,-0.001,-0.0011,-0.0012,-0.0013,-0.0014,-0.0015,-0.0016,-0.0017,-0.0018,-0.0019,-0.002],
                            "format": "~g",
                            "labelExpr": "abs(datum.value*2000-round(datum.value*2000))<1e-6 ? replace(datum.label,'−','-') : ''",
                            "tickSize": {"condition": {"test": "abs(datum.value*2000-round(datum.value*2000))<1e-6", "value": 8}, "value": -7},
                            "labelPadding": 9, "labelFontSize": 23, "grid": false,
                            "title": "Displacement", "titleFontSize": 24, "titleAngle": 0, "titleAlign": "center", "titleBaseline": "middle", "titleX": -11, "titleY": -37}}
                      },
                      "layer": [
                        {"data": {"name": "d3"}, "mark": {"type": "line", "interpolate": "monotone", "clip": true}},
                        {"data": {"name": "d3m"}, "mark": {"type": "point", "shape": "square", "size": 120}}
                      ]
                    }
                  ],
                  "resolve": {"scale": {"y": "independent"}}
                }
              ]
            }
          ]
        }
      ]
    }
  ]
}
